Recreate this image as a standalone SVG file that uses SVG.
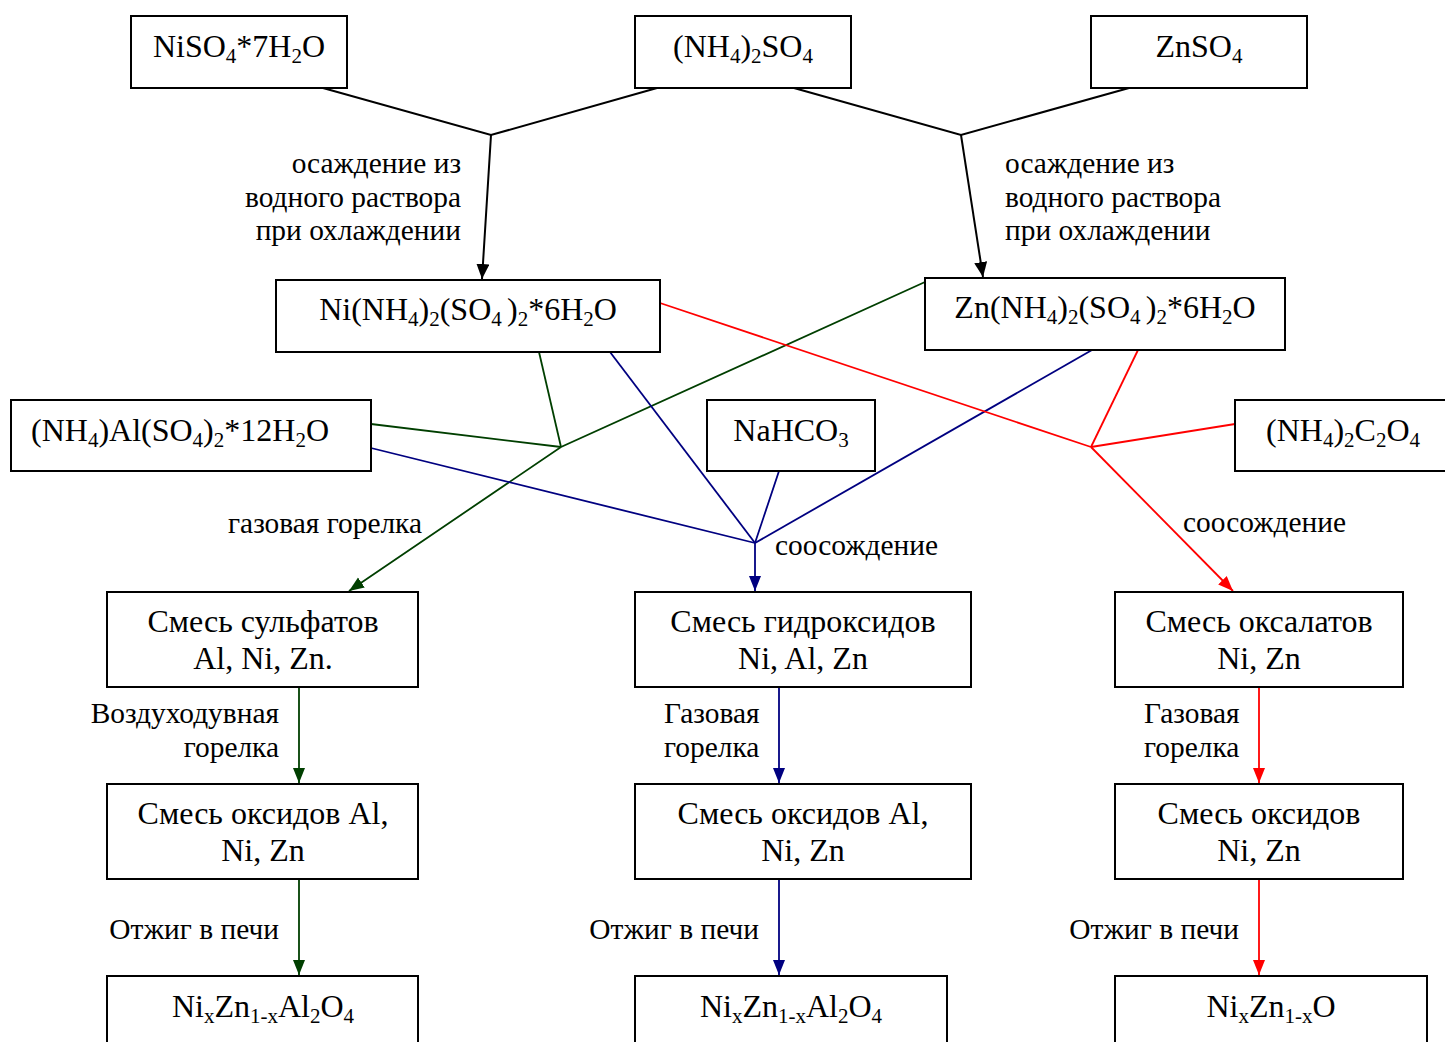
<svg xmlns="http://www.w3.org/2000/svg" width="1445" height="1042" viewBox="0 0 1445 1042">
<style>
.box{fill:#fff;stroke:#000;stroke-width:2}
.t{font-family:"Liberation Serif","Times New Roman",serif;font-size:32px;fill:#000;text-anchor:middle}
.l{font-family:"Liberation Serif","Times New Roman",serif;font-size:29.4px;fill:#000}
.r{text-anchor:end}
.s{font-size:21px}
.k{fill:none;stroke:#000;stroke-width:2}
.g{fill:none;stroke:#003f00;stroke-width:1.8}
.b{fill:none;stroke:#000080;stroke-width:1.8}
.rd{fill:none;stroke:#ff0000;stroke-width:1.8}
</style>
<defs>
<marker id="ak" markerUnits="userSpaceOnUse" markerWidth="16" markerHeight="14" refX="15" refY="6.5" orient="auto"><path d="M0,0 L15,6.5 L0,13 z" fill="#000"/></marker>
<marker id="ag" markerUnits="userSpaceOnUse" markerWidth="16" markerHeight="14" refX="15" refY="6" orient="auto"><path d="M0,0 L15,6 L0,12 z" fill="#003f00"/></marker>
<marker id="ab" markerUnits="userSpaceOnUse" markerWidth="16" markerHeight="14" refX="15" refY="6" orient="auto"><path d="M0,0 L15,6 L0,12 z" fill="#000080"/></marker>
<marker id="ar" markerUnits="userSpaceOnUse" markerWidth="16" markerHeight="14" refX="15" refY="6" orient="auto"><path d="M0,0 L15,6 L0,12 z" fill="#ff0000"/></marker>
</defs>
<rect width="1445" height="1042" fill="#fff"/>

<g id="connectors">
<path class="k" d="M323,88 L491,135 L657,88"/>
<path class="k" d="M491,135 L482,279" marker-end="url(#ak)"/>
<path class="k" d="M794,88 L961,135 L1129,88"/>
<path class="k" d="M961,135 L983,277" marker-end="url(#ak)"/>

<path class="g" d="M539,352 L561,447"/>
<path class="g" d="M371,424 L561,447"/>
<path class="g" d="M925,282 L561,447 L349,591" marker-end="url(#ag)"/>
<path class="g" d="M299,687 L299,783" marker-end="url(#ag)"/>
<path class="g" d="M299,879 L299,975" marker-end="url(#ag)"/>

<path class="b" d="M610,352 L755,543"/>
<path class="b" d="M371,448 L755,543"/>
<path class="b" d="M779,471 L755,543"/>
<path class="b" d="M1092,350 L755,543"/>
<path class="b" d="M755,543 L755,591" marker-end="url(#ab)"/>
<path class="b" d="M779,687 L779,783" marker-end="url(#ab)"/>
<path class="b" d="M779,879 L779,975" marker-end="url(#ab)"/>

<path class="rd" d="M660,303 L1091,447"/>
<path class="rd" d="M1138,350 L1091,447"/>
<path class="rd" d="M1235,424 L1091,447"/>
<path class="rd" d="M1091,447 L1233,591" marker-end="url(#ar)"/>
<path class="rd" d="M1259,687 L1259,783" marker-end="url(#ar)"/>
<path class="rd" d="M1259,879 L1259,975" marker-end="url(#ar)"/>
</g>

<g id="n-niso4"><rect class="box" x="131" y="16" width="216" height="72"/>
<text class="t" x="239" y="57">NiSO<tspan class="s" dy="6">4</tspan><tspan dy="-6">*7H</tspan><tspan class="s" dy="6">2</tspan><tspan dy="-6">O</tspan></text></g>
<g id="n-nh4so4"><rect class="box" x="635" y="16" width="216" height="72"/>
<text class="t" x="743" y="57">(NH<tspan class="s" dy="6">4</tspan><tspan dy="-6">)</tspan><tspan class="s" dy="6">2</tspan><tspan dy="-6">SO</tspan><tspan class="s" dy="6">4</tspan></text></g>
<g id="n-znso4"><rect class="box" x="1091" y="16" width="216" height="72"/>
<text class="t" x="1199" y="57">ZnSO<tspan class="s" dy="6">4</tspan></text></g>

<g id="n-ni-salt"><rect class="box" x="276" y="280" width="384" height="72"/>
<text class="t" x="468" y="320">Ni(NH<tspan class="s" dy="6">4</tspan><tspan dy="-6">)</tspan><tspan class="s" dy="6">2</tspan><tspan dy="-6">(SO</tspan><tspan class="s" dy="6">4 </tspan><tspan dy="-6">)</tspan><tspan class="s" dy="6">2</tspan><tspan dy="-6">*6H</tspan><tspan class="s" dy="6">2</tspan><tspan dy="-6">O</tspan></text></g>
<g id="n-zn-salt"><rect class="box" x="925" y="278" width="360" height="72"/>
<text class="t" x="1105" y="318">Zn(NH<tspan class="s" dy="6">4</tspan><tspan dy="-6">)</tspan><tspan class="s" dy="6">2</tspan><tspan dy="-6">(SO</tspan><tspan class="s" dy="6">4 </tspan><tspan dy="-6">)</tspan><tspan class="s" dy="6">2</tspan><tspan dy="-6">*6H</tspan><tspan class="s" dy="6">2</tspan><tspan dy="-6">O</tspan></text></g>

<g id="n-alum"><rect class="box" x="11" y="400" width="360" height="71"/>
<text class="t" x="180" y="441">(NH<tspan class="s" dy="6">4</tspan><tspan dy="-6">)Al(SO</tspan><tspan class="s" dy="6">4</tspan><tspan dy="-6">)</tspan><tspan class="s" dy="6">2</tspan><tspan dy="-6">*12H</tspan><tspan class="s" dy="6">2</tspan><tspan dy="-6">O</tspan></text></g>
<g id="n-nahco3"><rect class="box" x="707" y="400" width="168" height="71"/>
<text class="t" x="791" y="441">NaHCO<tspan class="s" dy="6">3</tspan></text></g>
<g id="n-oxalate"><rect class="box" x="1235" y="400" width="215" height="71"/>
<text class="t" x="1343" y="441">(NH<tspan class="s" dy="6">4</tspan><tspan dy="-6">)</tspan><tspan class="s" dy="6">2</tspan><tspan dy="-6">C</tspan><tspan class="s" dy="6">2</tspan><tspan dy="-6">O</tspan><tspan class="s" dy="6">4</tspan></text></g>

<g id="n-sulf"><rect class="box" x="107" y="592" width="311" height="95"/>
<text class="t" x="263" y="632">Смесь сульфатов</text><text class="t" x="263" y="669">Al, Ni, Zn.</text></g>
<g id="n-hydr"><rect class="box" x="635" y="592" width="336" height="95"/>
<text class="t" x="803" y="632">Смесь гидроксидов</text><text class="t" x="803" y="669">Ni, Al, Zn</text></g>
<g id="n-oxal"><rect class="box" x="1115" y="592" width="288" height="95"/>
<text class="t" x="1259" y="632">Смесь оксалатов</text><text class="t" x="1259" y="669">Ni, Zn</text></g>

<g id="n-ox1"><rect class="box" x="107" y="784" width="311" height="95"/>
<text class="t" x="263" y="824">Смесь оксидов Al,</text><text class="t" x="263" y="861">Ni, Zn</text></g>
<g id="n-ox2"><rect class="box" x="635" y="784" width="336" height="95"/>
<text class="t" x="803" y="824">Смесь оксидов Al,</text><text class="t" x="803" y="861">Ni, Zn</text></g>
<g id="n-ox3"><rect class="box" x="1115" y="784" width="288" height="95"/>
<text class="t" x="1259" y="824">Смесь оксидов</text><text class="t" x="1259" y="861">Ni, Zn</text></g>

<g id="n-p1"><rect class="box" x="107" y="976" width="311" height="90"/>
<text class="t" x="263" y="1017">Ni<tspan class="s" dy="6">x</tspan><tspan dy="-6">Zn</tspan><tspan class="s" dy="6">1-x</tspan><tspan dy="-6">Al</tspan><tspan class="s" dy="6">2</tspan><tspan dy="-6">O</tspan><tspan class="s" dy="6">4</tspan></text></g>
<g id="n-p2"><rect class="box" x="635" y="976" width="312" height="90"/>
<text class="t" x="791" y="1017">Ni<tspan class="s" dy="6">x</tspan><tspan dy="-6">Zn</tspan><tspan class="s" dy="6">1-x</tspan><tspan dy="-6">Al</tspan><tspan class="s" dy="6">2</tspan><tspan dy="-6">O</tspan><tspan class="s" dy="6">4</tspan></text></g>
<g id="n-p3"><rect class="box" x="1115" y="976" width="312" height="90"/>
<text class="t" x="1271" y="1017">Ni<tspan class="s" dy="6">x</tspan><tspan dy="-6">Zn</tspan><tspan class="s" dy="6">1-x</tspan><tspan dy="-6">O</tspan></text></g>

<g id="labels">
<text class="l r" x="461" y="173">осаждение из</text>
<text class="l r" x="461" y="207">водного раствора</text>
<text class="l r" x="461" y="240">при охлаждении</text>
<text class="l" x="1005" y="173">осаждение из</text>
<text class="l" x="1005" y="207">водного раствора</text>
<text class="l" x="1005" y="240">при охлаждении</text>
<text class="l r" x="422" y="533">газовая горелка</text>
<text class="l" x="775" y="555">соосождение</text>
<text class="l" x="1183" y="532">соосождение</text>
<text class="l r" x="279" y="723">Воздуходувная</text>
<text class="l r" x="279" y="757">горелка</text>
<text class="l" x="664" y="723">Газовая</text>
<text class="l" x="664" y="757">горелка</text>
<text class="l" x="1144" y="723">Газовая</text>
<text class="l" x="1144" y="757">горелка</text>
<text class="l r" x="279" y="939">Отжиг в печи</text>
<text class="l r" x="759" y="939">Отжиг в печи</text>
<text class="l r" x="1239" y="939">Отжиг в печи</text>
</g>
</svg>
